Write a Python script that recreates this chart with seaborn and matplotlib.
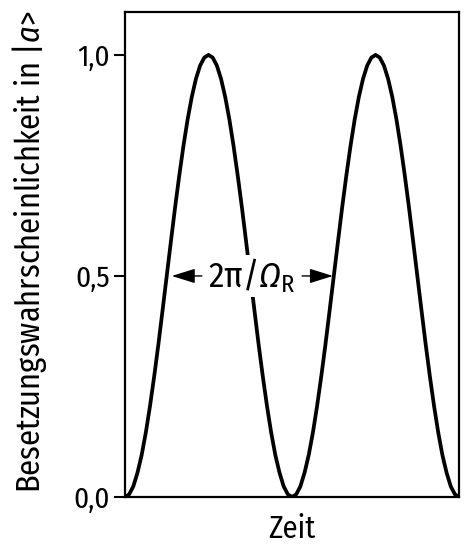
import numpy as np
import pandas as pd
import seaborn as sns
import matplotlib.pyplot as plt

# time in units of the Rabi period 2*pi/Omega_R
zeit = [0.000, 0.025, 0.050, 0.075, 0.100, 0.125, 0.150, 0.175, 0.200, 0.225,
        0.250, 0.275, 0.300, 0.325, 0.350, 0.375, 0.400, 0.425, 0.450, 0.475,
        0.500, 0.525, 0.550, 0.575, 0.600, 0.625, 0.650, 0.675, 0.700, 0.725,
        0.750, 0.775, 0.800, 0.825, 0.850, 0.875, 0.900, 0.925, 0.950, 0.975,
        1.000, 1.025, 1.050, 1.075, 1.100, 1.125, 1.150, 1.175, 1.200, 1.225,
        1.250, 1.275, 1.300, 1.325, 1.350, 1.375, 1.400, 1.425, 1.450, 1.475,
        1.500, 1.525, 1.550, 1.575, 1.600, 1.625, 1.650, 1.675, 1.700, 1.725,
        1.750, 1.775, 1.800, 1.825, 1.850, 1.875, 1.900, 1.925, 1.950, 1.975,
        2.000]

# occupation probability
besetzung = [0.000, 0.006, 0.024, 0.055, 0.095, 0.146, 0.206, 0.273, 0.345, 0.422,
             0.500, 0.578, 0.655, 0.727, 0.794, 0.854, 0.905, 0.946, 0.976, 0.994,
             1.000, 0.994, 0.976, 0.946, 0.905, 0.854, 0.794, 0.727, 0.655, 0.578,
             0.500, 0.422, 0.345, 0.273, 0.206, 0.146, 0.095, 0.055, 0.024, 0.006,
             0.000, 0.006, 0.024, 0.055, 0.095, 0.146, 0.206, 0.273, 0.345, 0.422,
             0.500, 0.578, 0.655, 0.727, 0.794, 0.854, 0.905, 0.946, 0.976, 0.994,
             1.000, 0.994, 0.976, 0.946, 0.905, 0.854, 0.794, 0.727, 0.655, 0.578,
             0.500, 0.422, 0.345, 0.273, 0.206, 0.146, 0.095, 0.055, 0.024, 0.006,
             0.000]

y_ticks = [0.0, 0.5, 1.0]
y_ticklabels = ['0,0', '0,5', '1,0']

sns.set_style('ticks')
plt.rcParams['font.family'] = ['Fira Sans Condensed', 'DejaVu Sans']
plt.rcParams['mathtext.fontset'] = 'custom'
plt.rcParams['mathtext.rm'] = 'Fira Sans Condensed'
plt.rcParams['mathtext.it'] = 'Fira Sans Condensed:italic'
# italic Greek capitals are forced upright under \mathit, so route them via sf
plt.rcParams['mathtext.sf'] = 'Fira Sans Condensed:italic'
plt.rcParams['text.color'] = 'black'
plt.rcParams['axes.labelcolor'] = 'black'

df = pd.DataFrame({'Zeit': zeit, 'P': besetzung})

fig = plt.figure(figsize=(4.68, 5.6), dpi=100)
ax = fig.add_axes([0.267, 0.1125, 0.714, 0.866])

sns.lineplot(data=df, x='Zeit', y='P', color='black', linewidth=2.7, ax=ax, zorder=2)

ax.set_xlim(0, 2)
ax.set_ylim(0, 1.097)
ax.set_xticks([])
ax.set_yticks(y_ticks)
ax.set_yticklabels(y_ticklabels, fontsize=21)
ax.tick_params(axis='y', direction='out', length=8, width=1.5, pad=3, colors='black')

for sp in ax.spines.values():
    sp.set_linewidth(1.6)
    sp.set_color('black')

ax.set_xlabel('Zeit', fontsize=22, labelpad=12)
ax.set_ylabel(r'Besetzungswahrscheinlichkeit in |$a$>', fontsize=23.3)
ax.yaxis.set_label_coords(-0.228, 0.505)

# period marker
ax.text(0.76, 0.5, r'2π/$\mathsf{Ω}_{\mathrm{R}}$', fontsize=25, ha='center', va='center',
        zorder=5, bbox=dict(facecolor='white', edgecolor='none', pad=1.0))
arrow = dict(arrowstyle='-|>,head_length=0.9,head_width=0.28', color='black', lw=1.0,
             mutation_scale=16, shrinkA=0, shrinkB=0)
ax.annotate('', xy=(0.28, 0.5), xytext=(0.46, 0.5), arrowprops=arrow, zorder=4)
ax.annotate('', xy=(1.245, 0.5), xytext=(1.06, 0.5), arrowprops=arrow, zorder=4)

fig.savefig('out.png', dpi=100)
